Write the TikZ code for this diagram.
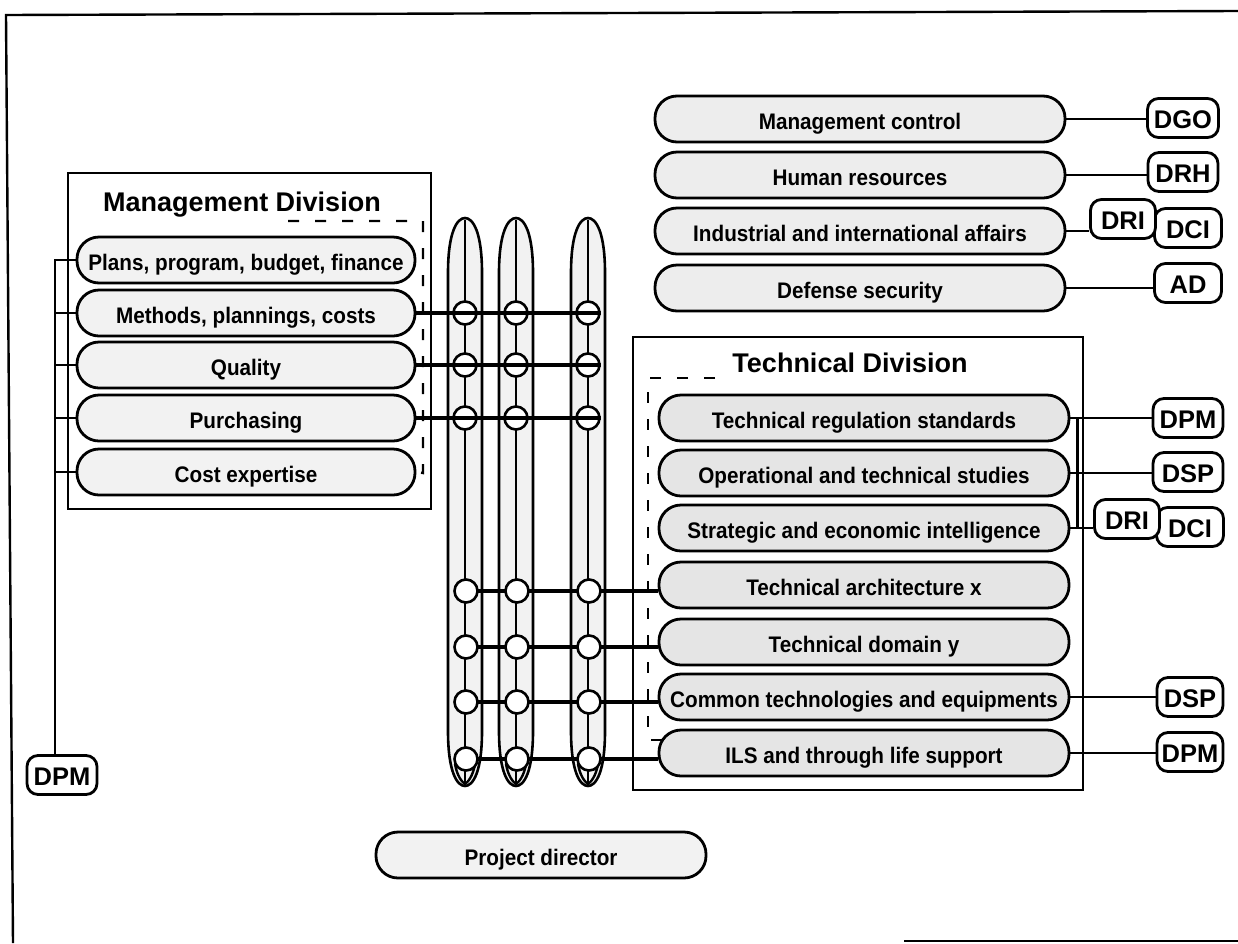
\documentclass[tikz,border=0pt]{standalone}
\usepackage{fontspec}
\setmainfont{Liberation Sans}
\newfontfamily\pillfont{Liberation Sans}[FakeStretch=0.92]
\usetikzlibrary{calc}
\tikzset{
  frame/.style={line width=2.4pt},
  divbox/.style={line width=2.6pt},
  divtitle/.style={font={\bfseries\fontsize{27}{30}\selectfont}, inner sep=0pt, anchor=base},
  pill/.style={draw, line width=2.8pt, rounded corners=22pt, minimum height=46pt, inner sep=0pt,
    text height=20pt, text depth=0pt, font={\pillfont\bfseries\fontsize{22.5}{25}\selectfont}},
  mpill/.style={pill, fill=gray!10, minimum width=338pt},
  tpill/.style={pill, fill=gray!14, minimum width=410pt},
  techpill/.style={pill, fill=gray!20, minimum width=410pt},
  lab/.style={draw, line width=2.8pt, rounded corners=11pt, minimum height=39pt, inner sep=0pt,
    fill=white, text height=20pt, text depth=0pt, font={\bfseries\fontsize{25.5}{28}\selectfont}},
  conn/.style={line width=2.5pt},
  thickline/.style={line width=4.8pt},
  colline/.style={line width=2.4pt},
  colshape/.style={draw, line width=2.6pt, fill=gray!10},
  circ/.style={circle, draw, line width=2.6pt, fill=white, minimum size=23pt, inner sep=0pt},
  dashline/.style={line width=2.4pt, dash pattern=on 11pt off 16pt}
}
\begin{document}
\begin{tikzpicture}[x=1pt,y=-1pt]
\useasboundingbox (0,0) rectangle (1238,943);
% outer frame
\draw[frame] (13,943) -- (6,15) -- (1238,11);
\draw[frame] (904,941) -- (1238,941);

% division boxes
\draw[divbox] (68,173) rectangle (431,509);
\node[divtitle] (MDt) at (242,211) {Management Division};
\draw[divbox] (633,337) rectangle (1083,790);
\node[divtitle] (TDt) at (850,372) {Technical Division};

% columns (elongated ellipses)
\foreach \cx in {465,516,588}{
  \path[colshape] (\cx-17,273) .. controls (\cx-17,232) and (\cx-8,218) .. (\cx,218)
     .. controls (\cx+8,218) and (\cx+17,232) .. (\cx+17,273)
     -- (\cx+17,731) .. controls (\cx+17,772) and (\cx+8,786) .. (\cx,786)
     .. controls (\cx-8,786) and (\cx-17,772) .. (\cx-17,731) -- cycle;
  \draw[colline] (\cx,220) -- (\cx,784);
  \draw[colline] (\cx-10,764) .. controls (\cx-8,776) and (\cx-3,782) .. (\cx,784)
     .. controls (\cx+3,782) and (\cx+8,776) .. (\cx+10,764);
}

% management pills
\node[mpill] (PPB) at (246,260) {Plans, program, budget, finance};
\node[mpill] (MPC) at (246,313) {Methods, plannings, costs};
\node[mpill] (QUA) at (246,365) {Quality};
\node[mpill] (PUR) at (246,418) {Purchasing};
\node[mpill] (CEX) at (246,472) {Cost expertise};

% management dashed bracket
\draw[dashline] (288,221) -- (423,221) -- (423,473) -- (CEX.east);

% top pills
\node[tpill] (MC) at (860,119) {Management control};
\node[tpill] (HR) at (860,175) {Human resources};
\node[tpill] (IIA) at (860,231) {Industrial and international affairs};
\node[tpill] (DSEC) at (860,288) {Defense security};

% technical pills
\node[techpill] (TRS) at (864,418) {Technical regulation standards};
\node[techpill] (OTS) at (864,473) {Operational and technical studies};
\node[techpill] (SEI) at (864,528) {Strategic and economic intelligence};
\node[techpill] (TAX) at (864,585) {Technical architecture x};
\node[techpill] (TDY) at (864,642) {Technical domain y};
\node[techpill] (CTE) at (864,697) {Common technologies and equipments};
\node[techpill] (ILS) at (864,753) {ILS and through life support};

% technical dashed bracket
\draw[dashline] (715,378) -- (648,378) -- (648,740) -- (663,740);

% project director
\node[pill, fill=gray!10, minimum width=330pt] (PD) at (541,855) {Project director};

% labels
\node[lab, minimum width=71pt] (DGO) at (1183,118) {DGO};
\node[lab, minimum width=70pt] (DRH) at (1183,172) {DRH};
\node[lab, minimum width=67pt] (DCIa) at (1188,228) {DCI};
\node[lab, minimum width=65pt] (DRIa) at (1123,219) {DRI};
\node[lab, minimum width=67pt] (AD) at (1188,283) {AD};
\node[lab, minimum width=70pt] (DPMa) at (1188,418) {DPM};
\node[lab, minimum width=70pt] (DSPa) at (1188,472) {DSP};
\node[lab, minimum width=67pt] (DCIb) at (1190,527) {DCI};
\node[lab, minimum width=65pt] (DRIb) at (1127,519) {DRI};
\node[lab, minimum width=66pt] (DSPb) at (1190,697) {DSP};
\node[lab, minimum width=66pt] (DPMb) at (1190,752) {DPM};
\node[lab, minimum width=70pt] (DPMl) at (62,775) {DPM};

% top connectors
\draw[conn] (MC.east) -- (MC.east -| DGO.west);
\draw[conn] (HR.east) -- (HR.east -| DRH.west);
\draw[conn] (IIA.east) -- (IIA.east -| DRIa.west);
\draw[conn] (DSEC.east) -- (DSEC.east -| AD.west);

% technical right connectors
\draw[conn] (TRS.east) -- (TRS.east -| DPMa.west);
\draw[conn] (OTS.east) -- (OTS.east -| DSPa.west);
\draw[conn] (SEI.east) -- (SEI.east -| DRIb.west);
\draw[conn] ($(TRS.east)+(7,0)$) -- ($(SEI.east)+(7,0)$);
\draw[conn] (CTE.east) -- (CTE.east -| DSPb.west);
\draw[conn] (ILS.east) -- (ILS.east -| DPMb.west);

% left bracket to DPM
\coordinate (brk) at (55,0);
\draw[conn] (PPB.west) -- (PPB.west -| brk) -- (brk |- DPMl.north);
\foreach \p in {MPC,QUA,PUR,CEX}{
  \draw[conn] (\p.west) -- (\p.west -| brk);
}

% upper circles (lines cross them)
\foreach \cx [count=\i] in {465,516,588}{
  \foreach \ry [count=\j] in {313,365,418}{
    \node[circ] (u\i\j) at (\cx,\ry) {};
  }
}
\draw[thickline] (MPC.east) -- (MPC.east -| u31.east);
\draw[thickline] (QUA.east) -- (QUA.east -| u32.east);
\draw[thickline] (PUR.east) -- (PUR.east -| u33.east);

% lower grid: lines then circles on top
\coordinate (r1) at (0,591);
\coordinate (r2) at (0,647);
\coordinate (r3) at (0,702);
\coordinate (r4) at (0,759);
\draw[thickline] (466,591) -- (r1 -| TAX.west);
\draw[thickline] (466,647) -- (r2 -| TDY.west);
\draw[thickline] (466,702) -- (r3 -| CTE.west);
\draw[thickline] (466,759) -- (r4 -| ILS.west);
\foreach \cx [count=\i] in {466,517,589}{
  \foreach \ry [count=\j] in {591,647,702,759}{
    \node[circ] (l\i\j) at (\cx,\ry) {};
  }
}
\end{tikzpicture}
\end{document}
